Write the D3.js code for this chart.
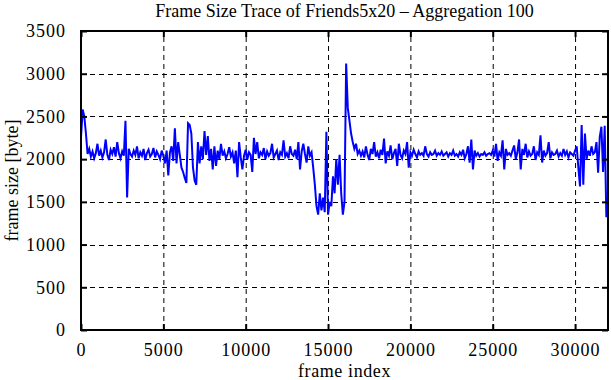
<!DOCTYPE html>
<html>
<head>
<meta charset="utf-8">
<script src="https://cdn.jsdelivr.net/npm/d3@7"></script>
<style>
  body { margin: 0; background: #fff; }
  text { font-family: "Liberation Serif", "DejaVu Serif", serif; }
</style>
</head>
<body>
<div id="graph"></div>
<script>
// frame size per aggregation block of 100 frames
const frameStep  = 100;
const frameSizes = [
  2250, 2580, 2500, 2300, 2060, 2120, 2030, 2090, 2010, 2070, 2180, 2040, 2100, 2020, 2080, 2230, 2050, 1990, 2110, 2060,
  2140, 2030, 2200, 2070, 2010, 2090, 2040, 2450, 1550, 2120, 2060, 2030, 2100, 2050, 2150, 2010, 2080, 2040, 2120, 1990,
  2070, 2110, 2030, 2060, 2130, 2020, 2090, 2050, 2000, 2100, 2040, 1950, 2100, 1810, 2080, 2150, 1980, 2360, 1950, 2200,
  2050, 1900, 1850, 1780, 1720, 2420, 2400, 2300, 1900, 1750, 1700, 2200, 1950, 2150, 2000, 2330, 2050, 2270, 1980, 2120,
  1880, 2150, 1920, 2100, 2000, 2180, 2040, 2090, 2010, 2060, 2140, 2030, 2080, 1950, 2100, 1790, 2200, 2020, 1880, 2040,
  2110, 2000, 2080, 2050, 1850, 2250, 2060, 2200, 2010, 2080, 2050, 2130, 2000, 2090, 2040, 2070, 2180, 2020, 2060, 2100,
  1990, 2080, 2050, 2220, 2030, 2070, 2010, 2150, 2060, 2040, 2110, 2000, 2200, 1880, 2090, 2180, 2060, 1960, 2150, 2040,
  2080, 1900, 1700, 1450, 1350, 1600, 1400, 1550, 1380, 2320, 1350, 1500, 1450, 1800, 1600, 2000, 1700, 2050, 1600, 1350,
  1500, 3120, 2600, 2450, 2300, 2200, 2120, 2180, 2060, 2100, 2040, 2090, 2020, 2150, 2050, 1990, 2120, 2060, 2200, 2030,
  2080, 2010, 2110, 2050, 2240, 1950, 2090, 2040, 2160, 2000, 2070, 2120, 1920, 2180, 2050, 2010, 2100, 2060, 2200, 1900,
  2080, 2040, 2110, 2060, 2020, 2090, 2050, 2070, 2040, 2150, 2060, 2030, 2080, 2050, 2060, 2100, 2040, 2070, 2050, 2090,
  2040, 2060, 2080, 2030, 2070, 2050, 2100, 2040, 2060, 2030, 2080, 2050, 2110, 2010, 2060, 2150, 1960, 2230, 1880, 2100,
  2040, 2070, 2030, 2060, 2050, 2080, 2040, 2060, 2070, 2050, 2100, 2030, 2180, 1980, 2080, 2040, 2220, 1880, 2120, 2050,
  2070, 2040, 2100, 2160, 2000, 2080, 2230, 1880, 2120, 2050, 2180, 2020, 2090, 2040, 2060, 2150, 1990, 2080, 2050, 2280,
  1960, 2100, 2040, 2070, 2200, 2010, 2080, 2050, 2060, 2100, 2030, 2070, 2040, 2120, 2050, 2090, 2020, 2080, 2060, 2040,
  2100, 2150, 1900, 1680, 2400, 1700, 2300, 2000, 2100, 2040, 2150, 2060, 2080, 2200, 1840, 2260, 2380, 1850, 2390, 1320
];
const xTicks = [0, 5000, 10000, 15000, 20000, 25000, 30000];
const yTicks = [0, 500, 1000, 1500, 2000, 2500, 3000, 3500];
const xDomain = [0, 32000];
const yDomain = [0, 3500];

const titleText = 'Frame Size Trace of Friends5x20 \u2013 Aggregation 100';
const xLabel    = 'frame index';
const yLabel    = 'frame size [byte]';

let widthContainer  = 611;
let heightContainer = 380;
let margin          = {top: 31, right: 3, bottom: 50, left: 81};
const tickLen       = 6;

let svg = d3.select('#graph')
  .append('svg')
  .attr('width',  widthContainer)
  .attr('height', heightContainer);

let xScale = d3.scaleLinear()
  .domain(xDomain)
  .range([margin.left, widthContainer - margin.right]);

let yScale = d3.scaleLinear()
  .domain(yDomain)
  .range([heightContainer - margin.bottom, margin.top]);

let x0 = xScale.range()[0], x1 = xScale.range()[1];
let y0 = yScale.range()[0], y1 = yScale.range()[1];

// dashed grid
svg.append('g')
  .selectAll('line')
  .data(xTicks.filter(d => d > 0))
  .enter()
  .append('line')
    .attr('x1', d => xScale(d) + 0.5)
    .attr('x2', d => xScale(d) + 0.5)
    .attr('y1', y0)
    .attr('y2', y1)
    .style('stroke', '#000')
    .style('stroke-width', 1)
    .style('stroke-dasharray', '5,4');

svg.append('g')
  .selectAll('line')
  .data(yTicks.filter(d => d > 0 && d < 3500))
  .enter()
  .append('line')
    .attr('x1', x0)
    .attr('x2', x1)
    .attr('y1', d => Math.round(yScale(d)) + 0.5)
    .attr('y2', d => Math.round(yScale(d)) + 0.5)
    .style('stroke', '#000')
    .style('stroke-width', 1)
    .style('stroke-dasharray', '5,4');

// trace
let line = d3.line()
  .x((d, i) => xScale(i * frameStep))
  .y(d => yScale(d));

svg.append('path')
  .datum(frameSizes)
  .attr('d', line)
  .style('fill', 'none')
  .style('stroke', '#0000ff')
  .style('stroke-width', 2)
  .style('stroke-linejoin', 'miter');

// axes: ticks inward on all four sides
svg.append('g')
  .attr('class', 'x-axis')
  .attr('transform', `translate(0, ${y0})`)
  .call(d3.axisBottom(xScale).tickValues(xTicks).tickFormat(d3.format('d')).tickSize(-tickLen).tickPadding(13))
  .call(g => g.select('.domain').remove());

svg.append('g')
  .attr('transform', `translate(0, ${y1})`)
  .call(d3.axisTop(xScale).tickValues(xTicks).tickFormat('').tickSize(-tickLen))
  .call(g => g.select('.domain').remove());

svg.append('g')
  .attr('class', 'y-axis')
  .attr('transform', `translate(${x0}, 0)`)
  .call(d3.axisLeft(yScale).tickValues(yTicks).tickFormat(d3.format('d')).tickSize(-tickLen).tickPadding(15))
  .call(g => g.select('.domain').remove());

svg.append('g')
  .attr('transform', `translate(${x1}, 0)`)
  .call(d3.axisRight(yScale).tickValues(yTicks).tickFormat('').tickSize(-tickLen))
  .call(g => g.select('.domain').remove());

svg.selectAll('.tick line')
  .style('stroke', '#000')
  .style('stroke-width', 2);

svg.selectAll('.x-axis text, .y-axis text')
  .style('font-size', '18px')
  .style('letter-spacing', '1px')
  .style('font-family', '"Liberation Serif", serif')
  .style('fill', '#000');

// border
svg.append('rect')
  .attr('x', x0)
  .attr('y', y1)
  .attr('width',  x1 - x0)
  .attr('height', y0 - y1)
  .style('fill', 'none')
  .style('stroke', '#000')
  .style('stroke-width', 2);

svg.append('text')
  .attr('x', (x0 + x1) / 2)
  .attr('y', 17)
  .style('text-anchor', 'middle')
  .style('font-size', '18px')
  .text(titleText);

svg.append('text')
  .attr('x', (x0 + x1) / 2)
  .attr('y', 377)
  .style('text-anchor', 'middle')
  .style('font-size', '18px')
  .style('letter-spacing', '0.6px')
  .text(xLabel);

svg.append('text')
  .attr('transform', 'rotate(-90)')
  .attr('x', -(y0 + y1) / 2)
  .attr('y', 18)
  .style('text-anchor', 'middle')
  .style('font-size', '18px')
  .text(yLabel);
</script>
</body>
</html>
